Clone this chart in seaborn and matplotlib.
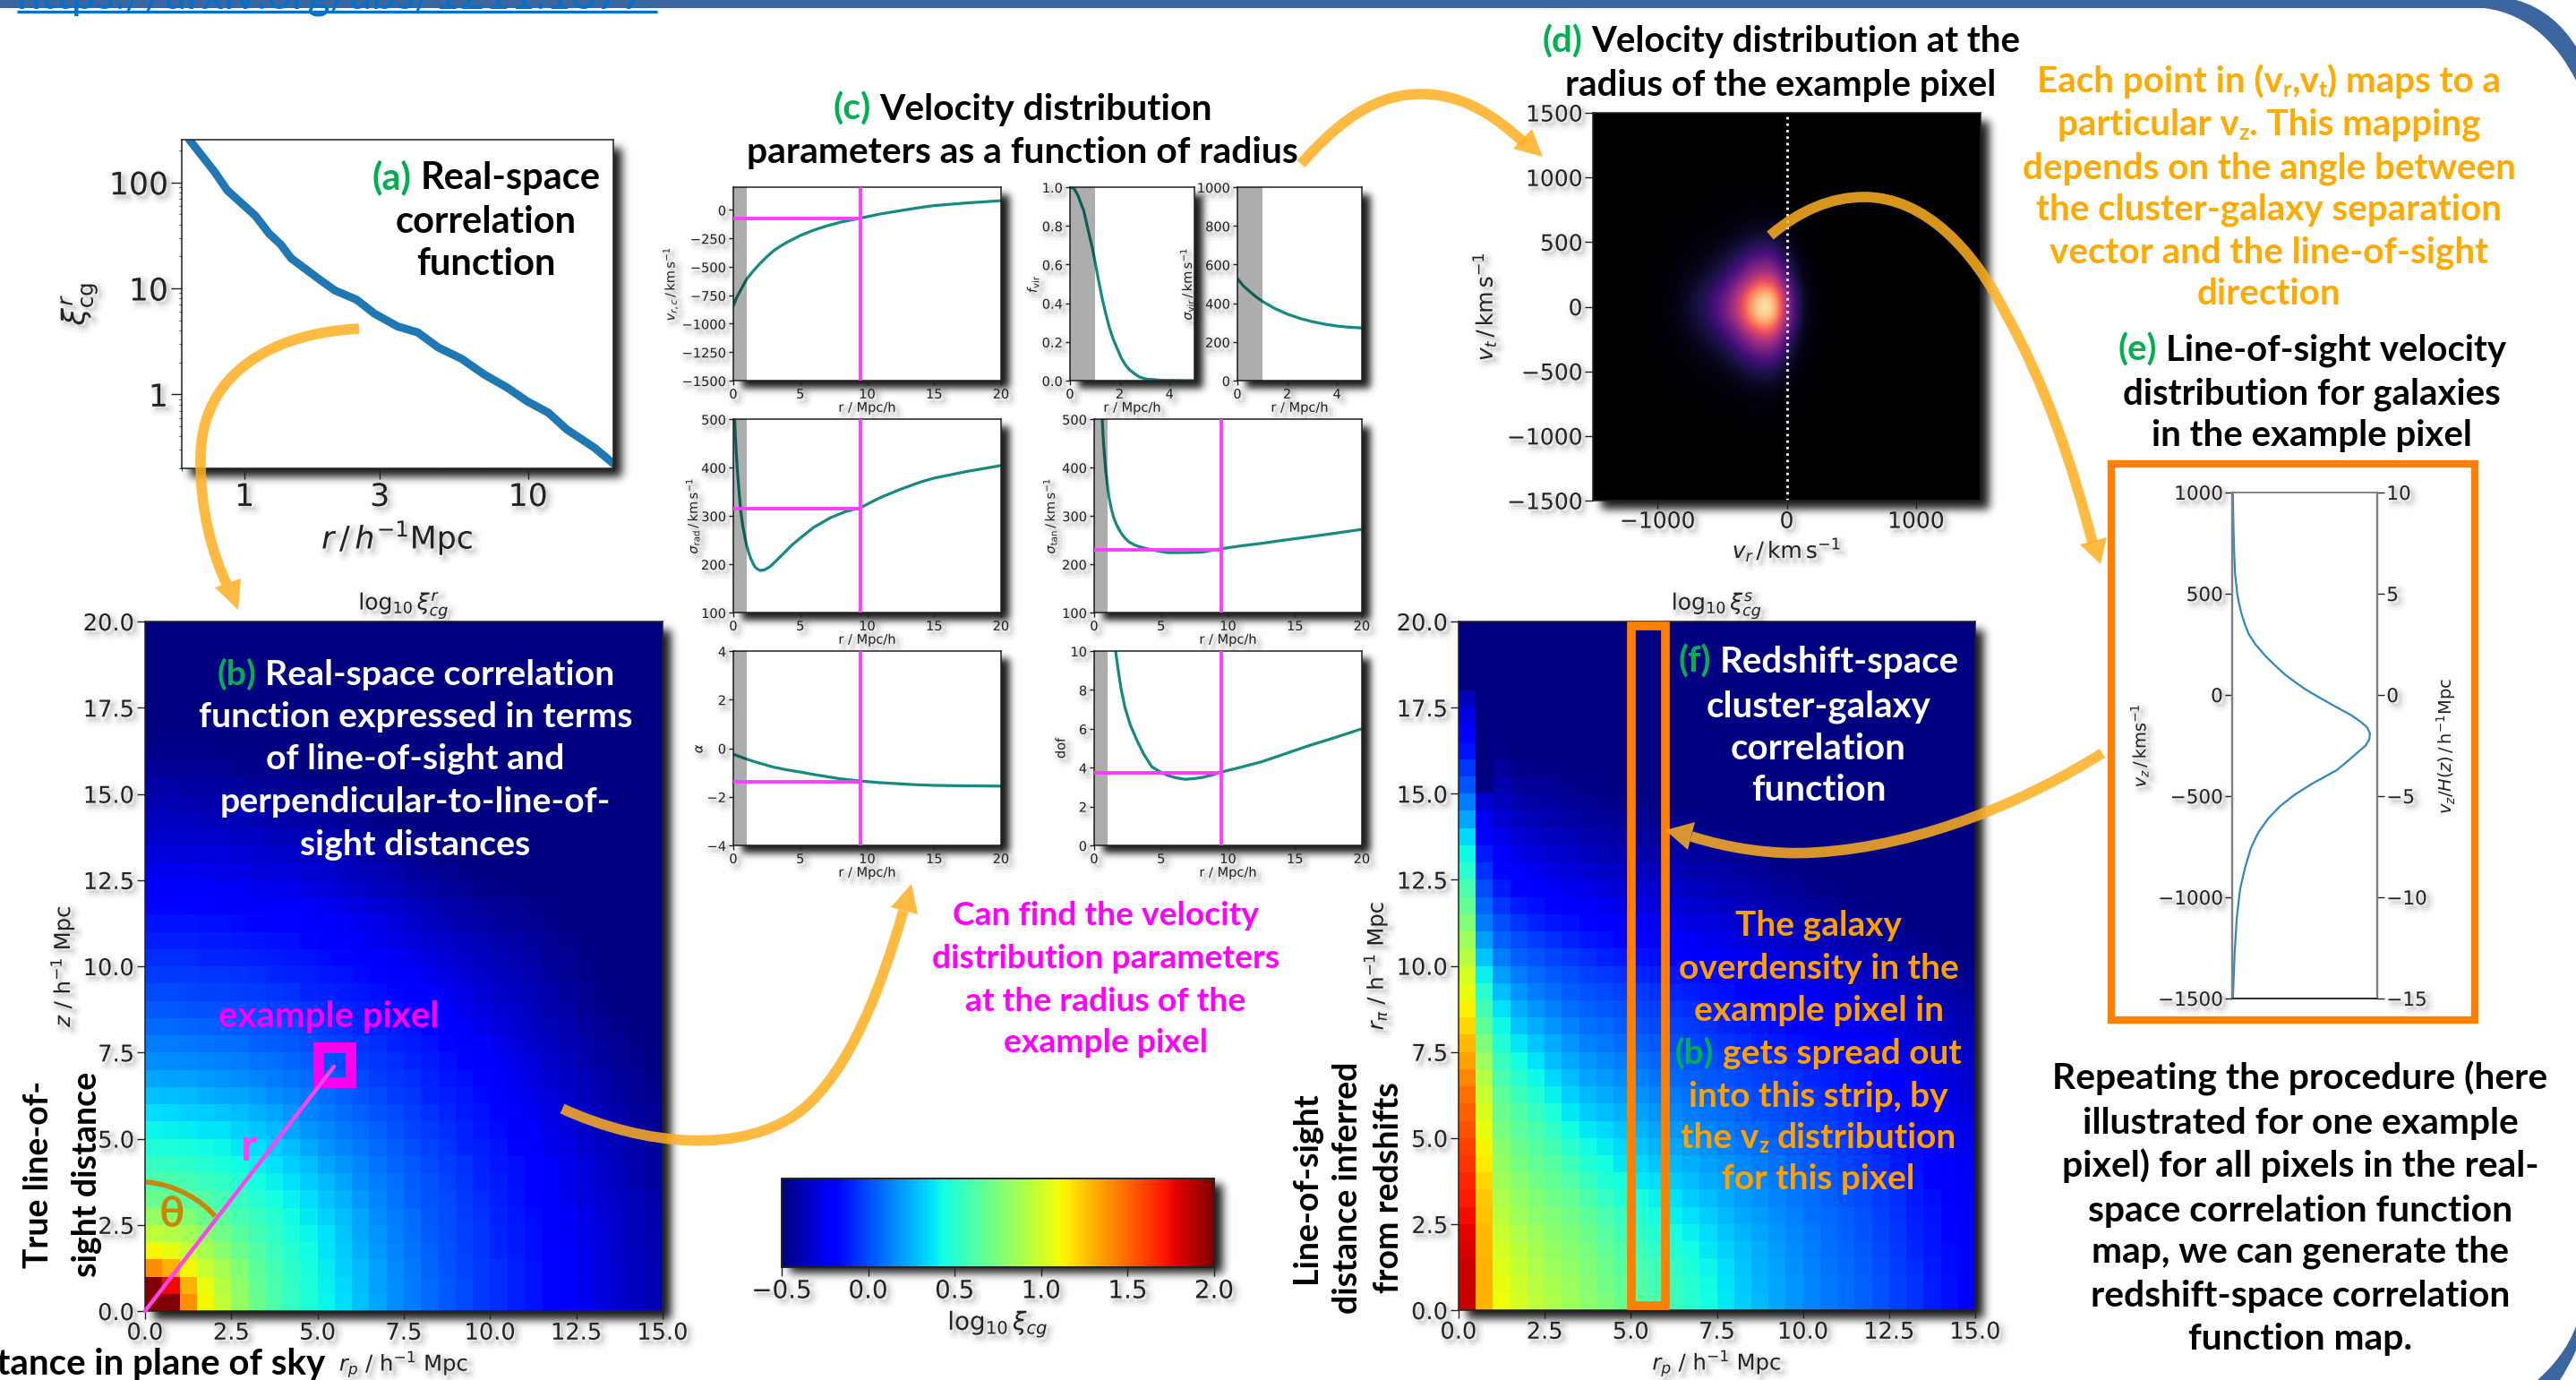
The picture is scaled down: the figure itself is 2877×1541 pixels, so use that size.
import numpy as np, math
import matplotlib
matplotlib.use("Agg")
import matplotlib.pyplot as plt
import seaborn as sns
import matplotlib.patheffects as pe
from matplotlib.path import Path
from matplotlib.patches import PathPatch, Polygon, Rectangle
from matplotlib.cm import ScalarMappable
from matplotlib.colors import Normalize
from matplotlib.ticker import NullFormatter

# ---------- panel (a)
a_r = [0.638,0.783,0.869,1.09,1.22,1.34,1.46,1.84,2.08,2.48,2.87,3.46,4.08,4.83,5.82,7.0,8.43,9.96,11.8,13.7,17.1,20.0]
a_xi = [253,126,84,48.6,32.9,26,19.2,12.1,9.57,7.84,5.78,4.38,3.84,2.76,2.17,1.54,1.16,0.855,0.67,0.466,0.315,0.222]

# ---------- panel (c)
rv = [0,.25,.5,.75,1,1.5,2,2.5,3,3.5,4,5,6,7,8,9.5,11,12.5,14,15,17.5,20]
v_rc = [-842,-770,-715,-660,-608,-535,-470,-412,-360,-320,-285,-225,-178,-140,-108,-72,-35,-6,22,38,62,81]
rf = [0,.15,.31,.55,.79,.9,1,1.13,1.27,1.42,1.57,1.72,1.87,2.05,2.23,2.4,2.6,2.8,3.07,3.67,5]
f_vir = [1,.995,.96,.88,.745,.685,.62,.53,.44,.355,.28,.22,.174,.12,.08,.055,.035,.018,.008,.002,0]
rs = [0,.25,.5,.75,1,1.5,2,2.5,3,3.5,4,4.5,5]
s_vir = [527,488,460,433,410,373,344,322,305,292,282,276,272]
r_rad = [.1,.2,.3,.43,.55,.7,.85,1,1.15,1.3,1.45,1.6,1.8,2,2.3,2.75,3.2,3.75,4.4,5,6,7.25,8.4,9.5,11,12.5,14,15,17.5,20]
s_rad = [500,440,395,350,312,280,258,238,224,212,203,195,190,187,188,195,207,222,240,254,276,296,309,317,338,355,370,378,392,404]
r_tan = [.6,.7,.87,1.1,1.28,1.45,1.65,1.85,2.05,2.3,2.6,3,3.4,3.8,4.6,5.5,6.8,8.1,9.5,11,12.5,14,15.9,18,20]
s_tan = [500,450,392,340,315,297,283,272,263,254,246,240,236,233,228,224,224,225,232,238,243,249,256,264,272]
r_alp = [0,.5,1,1.5,2,3,4,5,6,7,8,9.5,11,12,13.5,15,17.5,20]
alpha_v = [-.25,-.35,-.45,-.54,-.62,-.78,-.89,-.98,-1.08,-1.17,-1.26,-1.35,-1.42,-1.45,-1.5,-1.53,-1.55,-1.56]
r_dof = [1.6,1.8,2,2.3,2.7,3.2,3.7,4.3,4.9,5.5,6.1,6.8,7.5,8.1,8.8,9.5,11,12.5,14,15.9,18,20]
dof_v = [10,9,8.1,7.1,6.2,5.4,4.7,4.05,3.8,3.6,3.48,3.4,3.44,3.5,3.62,3.77,4.03,4.3,4.65,5.1,5.55,6]
r_example = 9.5
h_levels = {"rc": -77, "rad": 314, "tan": 229, "alp": -1.4, "dof": 3.75}

# ---------- panel (d) velocity profiles, 100 km/s steps from -1500 to 1500
d_vr_prof = [0,0,0,0,0,.01,.02,.06,.11,.18,.3,.48,.76,1.0,.95,.45,.1,.02,0,0,0,0,0,0,0,0,0,0,0,0,0]
d_vt_prof = [0,0,0,0,0,0,.004,.012,.03,.07,.14,.26,.42,.63,.9,1,.9,.63,.42,.26,.14,.07,.03,.012,.004,0,0,0,0,0,0]

# ---------- panel (e)
e_vz = [1000,900,800,700,600,500,450,400,350,300,250,192,150,100,68,30,0,-45,-100,-135,-160,-190,-220,-250,-281,-325,-372,-439,-496,-550,-609,-680,-755,-850,-958,-1100,-1274,-1500]
e_pdf = [.005,.007,.01,.014,.02,.035,.048,.065,.087,.115,.16,.23,.29,.365,.425,.5,.57,.68,.82,.89,.93,.95,.945,.92,.87,.8,.72,.55,.425,.33,.25,.18,.13,.09,.055,.032,.017,.005]

# ---------- panel (b): log10 xi in hundredths, rows from z=0 upward, unlisted cells are floor
FLOOR = -50
b_rows = [
[200,200,140,112,95,82,70,61,54,47,41,35,29,22,16,12,7,3,-1,-5,-8,-11,-14,-17,-21,-25,-29,-33,-36,-39],
[200,175,130,108,92,80,68,60,53,46,40,34,28,21,16,12,7,3,-1,-5,-8,-11,-14,-17,-21,-25,-29,-33,-36,-39],
[140,130,112,98,87,76,66,58,51,45,39,33,27,21,15,11,6,2,-2,-5,-8,-11,-14,-18,-22,-26,-30,-33,-36,-39],
[112,108,98,88,79,70,62,55,49,43,37,32,25,19,14,10,5,1,-3,-6,-9,-12,-15,-18,-22,-26,-30,-34,-37,-40],
[95,92,87,79,72,65,58,52,46,41,36,30,23,18,13,9,4,0,-3,-6,-9,-12,-15,-19,-23,-27,-30,-34,-37,-40],
[82,80,76,70,65,59,54,49,43,38,33,28,22,16,12,8,3,0,-4,-7,-10,-13,-16,-20,-23,-27,-31,-34,-37,-41],
[70,68,66,62,58,54,49,44,40,35,30,25,19,14,10,5,2,-1,-5,-8,-11,-14,-17,-21,-25,-29,-32,-35,-38,-41],
[61,60,58,55,52,49,44,40,36,32,27,22,16,12,9,4,1,-3,-6,-9,-12,-15,-18,-22,-26,-30,-34,-37,-40,-43],
[54,53,51,49,46,43,40,36,32,28,22,18,14,10,6,3,-1,-4,-7,-10,-13,-15,-18,-22,-26,-30,-34,-37,-40,-43],
[47,46,45,43,41,38,35,32,28,23,18,14,11,7,4,0,-3,-6,-9,-11,-14,-17,-21,-25,-28,-32,-35,-38,-41,-44],
[41,40,39,37,36,33,30,27,22,18,15,11,8,5,1,-2,-5,-8,-10,-13,-16,-19,-22,-26,-30,-34,-37,-40,-43,-46],
[35,34,33,32,30,28,25,22,18,14,11,8,5,2,-1,-4,-7,-9,-12,-14,-17,-21,-25,-28,-32,-35,-38,-41,-44,-46],
[29,28,27,25,23,22,19,16,14,11,8,5,2,-1,-4,-6,-9,-11,-13,-16,-19,-23,-27,-30,-34,-37,-40,-43,-46,-47],
[22,21,21,19,18,16,14,12,10,7,5,2,-1,-4,-6,-8,-10,-13,-15,-18,-21,-25,-29,-32,-35,-38,-41,-44,-46,-48],
[16,16,15,14,13,12,10,9,6,4,1,-1,-4,-6,-8,-10,-12,-15,-17,-20,-23,-27,-30,-34,-37,-40,-43,-46,-47,-49],
[12,12,11,10,9,8,5,4,3,0,-2,-4,-6,-8,-10,-12,-14,-17,-20,-22,-26,-29,-33,-36,-39,-41,-44,-46,-48],
[7,7,6,5,4,3,2,1,-1,-3,-5,-7,-9,-10,-12,-14,-17,-19,-22,-26,-29,-32,-35,-38,-40,-43,-46,-47,-49],
[3,3,2,1,0,0,-1,-3,-4,-6,-8,-9,-11,-13,-15,-17,-19,-22,-25,-28,-31,-34,-37,-40,-42,-45,-47,-49],
[-1,-1,-2,-3,-3,-4,-5,-6,-7,-9,-10,-12,-13,-15,-17,-20,-22,-25,-28,-31,-34,-36,-38,-41,-44,-46,-48,-49],
[-5,-5,-5,-6,-6,-7,-8,-9,-10,-11,-13,-14,-16,-18,-20,-22,-26,-28,-31,-33,-36,-38,-40,-43,-46,-47,-49],
[-8,-8,-8,-9,-9,-10,-11,-12,-13,-14,-16,-17,-19,-21,-23,-26,-29,-31,-34,-36,-38,-40,-42,-45,-46,-48,-49],
[-11,-11,-11,-12,-12,-13,-14,-15,-15,-17,-19,-21,-23,-25,-27,-29,-32,-34,-36,-38,-40,-42,-44,-46,-47,-49],
[-14,-14,-14,-15,-15,-16,-17,-18,-18,-19,-22,-23,-25,-27,-30,-33,-35,-38,-40,-42,-44,-45,-46,-47,-49],
[-17,-17,-18,-18,-19,-20,-21,-21,-22,-23,-25,-27,-29,-31,-33,-36,-38,-40,-42,-44,-45,-46,-47,-48],
[-21,-21,-22,-22,-23,-23,-25,-26,-26,-28,-30,-32,-34,-36,-38,-40,-42,-44,-46,-47,-48,-49],
[-25,-25,-25,-26,-27,-27,-29,-30,-30,-32,-33,-35,-37,-38,-40,-43,-45,-46,-47,-49],
[-29,-29,-30,-30,-30,-31,-32,-33,-34,-35,-37,-38,-40,-42,-44,-46,-47,-49],
[-33,-33,-33,-34,-34,-35,-35,-37,-37,-39,-40,-42,-44,-45,-47,-48,-49],
[-36,-36,-36,-37,-37,-38,-39,-40,-41,-42,-43,-45,-46,-48,-49],
[-39,-39,-40,-40,-40,-41,-42,-43,-44,-45,-46,-47,-48],
[-42,-42,-43,-43,-43,-44,-45,-45,-46,-47,-48],
[-45,-45,-45,-46,-46,-47,-47,-48,-49],
[-47,-47,-47,-47,-48,-48,-49],
[-49,-49,-49,-49],
]

# ---------- panel (f): log10 xi in hundredths, columns from r_p=0 outward, z upward
f_cols = [
[185,184,183,180,178,174,170,167,163,160,156,152,148,142,135,128,120,114,108,102,92,85,76,68,60,50,42,34,22,12,2,-6,-14,-20,-28,-36],
[130,130,130,129,128,126,124,120,116,113,108,104,98,92,84,75,66,58,50,40,30,20,12,6,0,-7,-12,-18,-24,-32],
[110,108,105,102,98,94,90,86,82,78,74,70,66,60,55,48,42,36,28,20,12,5,0,-6,-12,-17,-22,-27,-32,-36,-40,-44,-48],
[102,100,97,94,90,86,82,78,74,70,66,62,56,50,44,38,30,24,18,12,5,0,-6,-12,-17,-22,-27,-32,-36,-40,-44,-47],
[95,93,90,87,84,80,76,72,68,64,60,54,48,42,36,30,24,18,12,7,2,-4,-10,-15,-20,-25,-30,-34,-38,-42,-45,-48],
[90,88,85,82,79,76,72,68,64,58,52,46,40,34,28,24,18,13,8,3,-2,-8,-13,-18,-23,-28,-32,-36,-40,-43,-46,-48],
[85,83,81,78,75,72,68,62,56,50,44,38,33,28,23,18,13,8,4,0,-5,-10,-15,-20,-25,-30,-34,-38,-42,-45,-47,-49],
[80,78,76,74,70,66,60,54,48,43,38,32,27,22,18,13,9,5,1,-3,-8,-13,-18,-23,-27,-32,-36,-40,-43,-46,-48],
[75,73,71,68,64,60,54,48,44,39,34,28,24,19,15,11,7,3,-1,-5,-10,-15,-20,-25,-30,-34,-38,-41,-44,-47,-49],
[70,68,65,62,58,54,48,44,38,34,30,25,20,16,12,8,4,1,-3,-7,-12,-17,-22,-27,-31,-35,-39,-42,-45,-48],
[64,62,60,56,52,48,44,38,34,30,26,21,17,13,9,5,1,-2,-5,-9,-14,-18,-23,-28,-32,-36,-40,-43,-46,-48],
[60,58,56,52,48,44,40,35,30,26,22,18,14,10,6,3,-1,-4,-7,-11,-15,-20,-25,-29,-33,-37,-41,-44,-47,-49],
[55,54,52,48,44,40,36,32,27,23,19,15,11,7,4,0,-3,-6,-9,-13,-17,-22,-26,-30,-34,-38,-42,-45,-47],
[50,49,47,44,40,36,32,28,24,20,16,12,9,5,2,-2,-5,-8,-11,-15,-19,-23,-28,-32,-36,-40,-43,-46,-48],
[44,43,41,38,35,32,28,24,21,17,14,10,6,3,0,-4,-7,-10,-13,-17,-21,-25,-29,-33,-37,-41,-44,-47,-49],
[38,37,35,33,30,27,24,21,18,14,11,7,4,1,-2,-6,-9,-12,-15,-19,-23,-27,-31,-35,-39,-42,-45,-48],
[32,31,30,28,26,23,20,18,15,11,8,5,2,-1,-4,-8,-11,-14,-17,-21,-25,-29,-33,-37,-40,-44,-47,-49],
[27,26,25,24,22,20,17,15,12,9,6,2,-1,-3,-6,-10,-13,-16,-19,-23,-27,-31,-35,-39,-42,-45,-48],
[22,22,21,20,18,16,14,12,9,6,3,0,-3,-5,-8,-12,-15,-18,-21,-25,-29,-33,-37,-40,-44,-47,-49],
[18,18,17,16,15,13,11,9,6,3,1,-2,-5,-7,-10,-14,-17,-20,-23,-27,-31,-35,-39,-42,-45,-48],
[14,14,13,12,11,9,8,6,3,1,-1,-4,-7,-9,-12,-16,-19,-22,-25,-29,-33,-37,-40,-44,-47,-49],
[11,11,10,9,8,7,5,3,1,-1,-3,-6,-9,-11,-14,-18,-21,-24,-27,-31,-35,-38,-42,-45,-48],
[8,8,7,6,5,4,2,0,-2,-4,-6,-8,-11,-13,-16,-20,-23,-26,-29,-33,-37,-40,-44,-47,-49],
[5,5,4,3,2,1,-1,-3,-5,-7,-9,-11,-13,-15,-18,-22,-25,-28,-31,-35,-39,-42,-45,-48],
[1,1,0,-1,-2,-3,-5,-6,-8,-10,-12,-14,-16,-18,-21,-24,-27,-30,-33,-37,-40,-44,-47,-49],
[-3,-3,-4,-5,-6,-7,-8,-10,-12,-13,-15,-17,-19,-21,-24,-27,-30,-32,-35,-39,-42,-45,-48],
[-7,-7,-8,-9,-10,-11,-12,-13,-15,-16,-18,-20,-22,-24,-27,-30,-32,-34,-37,-41,-44,-47,-49],
[-11,-11,-12,-13,-13,-14,-15,-17,-18,-19,-21,-23,-25,-27,-30,-32,-35,-37,-40,-43,-46,-48],
[-15,-15,-16,-16,-17,-18,-19,-20,-21,-22,-24,-26,-28,-30,-32,-35,-37,-39,-42,-45,-48],
[-19,-19,-20,-20,-21,-21,-22,-23,-24,-25,-27,-29,-31,-33,-35,-37,-39,-41,-44,-47,-49],
]
map_ticks_x = ["0.0","2.5","5.0","7.5","10.0","12.5","15.0"]
map_ticks_y = ["0.0","2.5","5.0","7.5","10.0","12.5","15.0","17.5","20.0"]

W, H = 2877, 1541
sns.set_style("ticks")
plt.rcParams["font.family"] = ["DejaVu Sans"]
plt.rcParams["axes.edgecolor"] = "#222222"
plt.rcParams["xtick.color"] = "#222222"
plt.rcParams["ytick.color"] = "#222222"
plt.rcParams["text.color"] = "#222222"
plt.rcParams["axes.labelcolor"] = "#222222"

fig = plt.figure(figsize=(W/100, H/100), dpi=100, facecolor="white")
TXT = "Lato"
WEIGHT = "bold"
soft = [pe.Stroke(linewidth=4, foreground="k", alpha=.05, offset=(3,-3)),
        pe.Stroke(linewidth=9, foreground="k", alpha=.035, offset=(3,-3)),
        pe.Normal()]

def add(x0, y0, x1, y1, **kw):
    return fig.add_axes([x0/W, 1-y1/H, (x1-x0)/W, (y1-y0)/H], **kw)

def style(ax, fs, lab=None):
    ax.tick_params(labelsize=fs, length=fs*.35, width=1, pad=2)
    for s in ax.spines.values():
        s.set_visible(True); s.set_linewidth(1.1)
    for t in ax.get_xticklabels()+ax.get_yticklabels():
        t.set_path_effects(soft)

def labels(ax, xl, xc, yl, yc, fs):
    if xl:
        ax.set_xlabel(xl, fontsize=fs, path_effects=soft, va="center"); ax.xaxis.set_label_coords(*xc)
    if yl:
        ax.set_ylabel(yl, fontsize=fs, path_effects=soft, va="center"); ax.yaxis.set_label_coords(*yc)

# ---- drop shadows behind the panels
yy, xx = np.arange(H), np.arange(W)
erf = np.vectorize(math.erf)
shadow = np.zeros((H, W))
def add_shadow(x0, y0, x1, y1, dx=9, dy=9, s=7.0, a=.9):
    px = (erf((xx-x0-dx)/s)-erf((xx-x1-dx)/s))/2
    py = (erf((yy-y0-dy)/s)-erf((yy-y1-dy)/s))/2
    m = a*np.outer(py, px)
    np.maximum(shadow, m, out=shadow)

# ---- (a)
box = (203,156,685,523); add_shadow(*box)
ax = add(*box)
sns.lineplot(x=a_r, y=a_xi, ax=ax, color="#1f77b4", linewidth=6.5, estimator=None, sort=False)
ax.set_xscale("log"); ax.set_yscale("log")
ax.set_xlim(.6, 20); ax.set_ylim(.2, 253)
ax.set_xticks([1,3,10]); ax.set_xticklabels(["1","3","10"])
ax.set_yticks([1,10,100]); ax.set_yticklabels(["1","10","100"])
ax.xaxis.set_minor_formatter(NullFormatter()); ax.yaxis.set_minor_formatter(NullFormatter())
style(ax, 25)
labels(ax, r"$r\,/\,h^{-1}$Mpc", (.5,-.21), r"$\xi^{r}_{\rm cg}$", (-.239,.5), 25)

# ---- maps
def heat(box, data, title):
    add_shadow(*box)
    ax = add(*box)
    sns.heatmap(data, ax=ax, cmap="jet", vmin=-.5, vmax=2, cbar=False, xticklabels=False, yticklabels=False)
    ax.set_ylim(0, 40); ax.set_xlim(0, 30)
    ax.set_xticks(np.arange(0, 31, 5)); ax.set_xticklabels(map_ticks_x, rotation=0)
    ax.set_yticks(np.arange(0, 41, 5)); ax.set_yticklabels(map_ticks_y, rotation=0)
    style(ax, 18.5)
    ax.set_title(title, fontsize=18, pad=6, path_effects=soft)
    return ax

B = np.full((40, 30), float(FLOOR))
for j, row in enumerate(b_rows):
    B[j, :len(row)] = row
ax = heat((162,694,740,1464), B/100, r"$\log_{10}\xi^{r}_{cg}$")
labels(ax, r"$r_p$ / h$^{-1}$ Mpc", (.5,-.077), r"$z$ / h$^{-1}$ Mpc", (-.16,.5), 17.5)

F = np.full((40, 30), float(FLOOR))
for i, col in enumerate(f_cols):
    F[:len(col), i] = col
ax = heat((1629,694,2206,1463), F/100, r"$\log_{10}\xi^{s}_{cg}$")
labels(ax, r"$r_p$ / h$^{-1}$ Mpc", (.5,-.077), r"$r_\pi$ / h$^{-1}$ Mpc", (-.161,.5), 17.5)

# ---- (c)
TEAL = "#148a80"; MAG = "#ff3dff"
def cpanel(box, r, v, xlim, ylim, xt, yt, yl, lx, level=None):
    add_shadow(*box, dx=9, dy=8, s=6)
    ax = add(*box)
    sns.lineplot(x=r, y=v, ax=ax, color=TEAL, linewidth=2.3, estimator=None, sort=False)
    ax.axvspan(0, 1, color="k", alpha=.32, lw=0, zorder=3)
    if level is not None:
        ax.axvline(r_example, color=MAG, lw=2.8, zorder=4)
        ax.hlines(level, 0, r_example, color=MAG, lw=2.8, zorder=4)
    ax.set_xlim(*xlim); ax.set_ylim(*ylim)
    ax.set_xticks(xt); ax.set_yticks(yt)
    ax.set_yticklabels([str(t).replace("-", "\u2212") for t in yt])
    style(ax, 10.5)
    labels(ax, "r / Mpc/h", (.5,-.14), yl, (lx,.5), 10.5)

T20 = [0,5,10,15,20]; T5 = [0,2,4]
KM = r"/\,{\rm km\,s^{-1}}$"
cpanel((819,209,1118,425), rv, v_rc, (0,20), (-1500,200), T20, [-1500,-1250,-1000,-750,-500,-250,0], r"$v_{r,c}\,"+KM, -.237, h_levels["rc"])
cpanel((1195,209,1334,425), rf, f_vir, (0,5), (0,1), T5, [0.0,0.2,0.4,0.6,0.8,1.0], r"$f_{\rm vir}$", -.3)
cpanel((1382,209,1521,425), rs, s_vir, (0,5), (0,1000), T5, [0,200,400,600,800,1000], r"$\sigma_{\rm vir}\,"+KM, -.41)
cpanel((819,468,1118,684), r_rad, s_rad, (0,20), (100,500), T20, [100,200,300,400,500], r"$\sigma_{\rm rad}\,"+KM, -.154, h_levels["rad"])
cpanel((1222,468,1521,684), r_tan, s_tan, (0,20), (100,500), T20, [100,200,300,400,500], r"$\sigma_{\rm tan}\,"+KM, -.167, h_levels["tan"])
cpanel((819,727,1118,944), r_alp, alpha_v, (0,20), (-4,4), T20, [-4,-2,0,2,4], r"$\alpha$", -.13, h_levels["alp"])
cpanel((1222,727,1521,944), r_dof, dof_v, (0,20), (0,10), T20, [0,2,4,6,8,10], "dof", -.124, h_levels["dof"])

# ---- (d)
box = (1779,126,2212,559); add_shadow(*box)
ax = add(*box)
dens = np.outer(d_vt_prof, d_vr_prof)
ax.imshow(dens, origin="lower", extent=(-1550,1550,-1550,1550), cmap="magma", vmin=0, vmax=1, interpolation="bicubic", aspect="auto")
ax.axvline(0, color="white", lw=2, ls=(0,(1,1.6)))
ax.set_xlim(-1500,1500); ax.set_ylim(-1500,1500)
ax.set_xticks([-1000,0,1000]); ax.set_xticklabels(["\u22121000","0","1000"])
ax.set_yticks([-1500,-1000,-500,0,500,1000,1500]); ax.set_yticklabels(["\u22121500","\u22121000","\u2212500","0","500","1000","1500"])
style(ax, 18)
labels(ax, r"$v_r\,/\,{\rm km\,s^{-1}}$", (.5,-.127), r"$v_t\,/\,{\rm km\,s^{-1}}$", (-.28,.5), 18)

# ---- (e)
ax = add(2493,550,2655,1115)
sns.lineplot(x=e_pdf, y=e_vz, ax=ax, color="#2f86c1", linewidth=1.6, estimator=None, sort=False)
ax.set_xlim(0,1); ax.set_ylim(-1500,1000)
ax.set_xticks([])
ax.set_yticks([-1500,-1000,-500,0,500,1000]); ax.set_yticklabels(["\u22121500","\u22121000","\u2212500","0","500","1000"])
style(ax, 15.5)
labels(ax, None, None, r"$v_z\,/\,{\rm km s^{-1}}$", (-.64,.5), 14)
tw = ax.twinx(); tw.set_ylim(-15,10); tw.set_yticks([-15,-10,-5,0,5,10]); tw.set_yticklabels(["\u221215","\u221210","\u22125","0","5","10"])
style(tw, 15.5)
tw.set_ylabel(r"$v_z/H(z)\,/\,{\rm h^{-1}Mpc}$", fontsize=14, va="center"); tw.yaxis.set_label_coords(1.475,.5)
for a_ in (ax, tw):
    a_.spines["left"].set_color("#808080"); a_.spines["right"].set_color("#808080"); a_.spines["top"].set_color("#808080")
    a_.spines["left"].set_linewidth(1.6); a_.spines["right"].set_linewidth(1.6)

# ---- colour bar
box = (873,1316,1356,1415); add_shadow(*box, dy=6)
cax = add(*box)
cb = fig.colorbar(ScalarMappable(Normalize(-.5,2), "jet"), cax=cax, orientation="horizontal", ticks=[-.5,0,.5,1,1.5,2])
cax.set_xticklabels(["\u22120.5","0.0","0.5","1.0","1.5","2.0"])
style(cax, 20)
cax.set_xlabel(r"$\log_{10}\xi_{cg}$", fontsize=20, path_effects=soft, va="center"); cax.xaxis.set_label_coords(.5,-.64)

fig.figimage(np.dstack([np.zeros((H,W,3)), shadow]), zorder=-5, origin="upper")

# ---- overlay in figure pixels
ov = fig.add_axes([0,0,1,1], zorder=20)
ov.set_xlim(0,W); ov.set_ylim(H,0); ov.axis("off"); ov.patch.set_alpha(0)
fig.canvas.draw()
rend = fig.canvas.get_renderer()
GREEN = "#00b050"; ORG = "#ffaa00"; LINK = "#0070c8"; BAR = "#3b66a0"

def width(s, fs, **kw):
    t = ov.text(0,0,s,fontsize=fs,family=TXT,fontweight=WEIGHT,**kw)
    w = t.get_window_extent(rend).width; t.remove()
    return w

def rich(xc, yc, pieces, fs):
    gap = width("a b", fs)-width("ab", fs)
    meas, total = [], 0
    for i, (s, c, k) in enumerate(pieces):
        sz = fs*.62 if k else fs
        w = width(s.strip(), sz)
        g = gap if (s.endswith(" ") or (i+1 < len(pieces) and pieces[i+1][0].startswith(" "))) else 0
        meas.append((s.strip(), c, k, sz, w, g)); total += w+g
    x = xc-total/2
    base = yc+.36*fs*100/72
    for s, c, k, sz, w, g in meas:
        ov.text(x, base+(.13*fs*100/72 if k else 0), s, fontsize=sz, color=c, family=TXT, fontweight=WEIGHT, ha="left", va="baseline")
        x += w+g

def block(xc, ys, lines, color, fs):
    for y, ln in zip(ys, lines):
        if isinstance(ln, str):
            ln = [(ln, color, None)]
        rich(xc, y, ln, fs)

K = "#000000"; WH = "#ffffff"
block(543, [196,245,292], [[("(a) ",GREEN,None),("Real-space",K,None)], "correlation", "function"], K, 30)
block(464, [751,798,845,893,941], [[("(b) ",GREEN,None),("Real-space correlation",WH,None)], "function expressed in terms", "of line-of-sight and", "perpendicular-to-line-of-", "sight distances"], WH, 28.3)
block(1142, [119,167], [[("(c) ",GREEN,None),("Velocity distribution",K,None)], "parameters as a function of radius"], K, 29.4)
block(1989, [44,93], [[("(d) ",GREEN,None),("Velocity distribution at the",K,None)], "radius of the example pixel"], K, 28.9)
block(2534, [88,136,185,231,279,325], [
    [("Each point in (v",ORG,None),("r",ORG,"sub"),(",v",ORG,None),("t",ORG,"sub"),(") maps to a",ORG,None)],
    [("particular v",ORG,None),("z",ORG,"sub"),(". This mapping",ORG,None)],
    "depends on the angle between", "the cluster-galaxy separation", "vector and the line-of-sight", "direction"], ORG, 29.1)
block(2582, [388,437,484], [[("(e) ",GREEN,None),("Line-of-sight velocity",K,None)], "distribution for galaxies", "in the example pixel"], K, 28.9)
block(2031, [736,786,833,879], [[("(f) ",GREEN,None),("Redshift-space",WH,None)], "cluster-galaxy", "correlation", "function"], WH, 29)
OR2 = "#ffa000"
block(2031, [1031,1079,1126,1174,1222,1268,1314], ["The galaxy", "overdensity in the", "example pixel in",
    [("(b) ",GREEN,None),("gets spread out",OR2,None)], "into this strip, by",
    [("the v",OR2,None),("z",OR2,"sub"),(" distribution",OR2,None)], "for this pixel"], OR2, 28)
block(1235, [1020,1068,1116,1162], ["Can find the velocity", "distribution parameters", "at the radius of the", "example pixel"], "#ff00ff", 26.8)
block(2569, [1202,1251,1299,1349,1395,1444,1492], ["Repeating the procedure (here", "illustrated for one example", "pixel) for all pixels in the real-",
    "space correlation function", "map, we can generate the", "redshift-space correlation", "function map."], K, 29.4)
block(367, [1133], ["example pixel"], "#ff00ff", 29)
ov.text(278,1281,"r",fontsize=36,color="#ff40ee",family=TXT,fontweight=WEIGHT,ha="center",va="center")
ov.text(192,1356,"\u03b8",fontsize=34,color="#c8860a",family=TXT,fontweight=WEIGHT,ha="center",va="center")

for x, s in ((1459,"Line-of-sight"),(1505,"distance inferred"),(1551,"from redshifts")):
    ov.text(x,1326,s,rotation=90,fontsize=27,color=K,family=TXT,fontweight=WEIGHT,ha="center",va="center")
for x, s in ((43,"True line-of-"),(97,"sight distance")):
    ov.text(x,1311,s,rotation=90,fontsize=27,color=K,family=TXT,fontweight=WEIGHT,ha="center",va="center")
ov.text(363,1523,"Distance in plane of sky",fontsize=29,color=K,family=TXT,fontweight=WEIGHT,ha="right",va="center")

# pixel, r line, angle arc
ov.add_patch(Rectangle((356,1170),36,39,fill=False,ec="#ff00ee",lw=8.6))
ov.plot([162,373],[1464,1191],color="#ff44ee",lw=3.2)
ov.add_patch(PathPatch(Path([(163,1320),(195,1322),(225,1340),(240,1358)],[1,4,4,4]),fill=False,ec="#c8860a",lw=4))
# strip and box
ov.add_patch(Rectangle((1822,699),38,759,fill=False,ec="#ff8000",lw=7))
ov.add_patch(Rectangle((2358,518),406,621,fill=False,ec="#ff8000",lw=6))

# arrows
ARC = "#ffb020"
def arrow(segs, head):
    v, c = [segs[0]], [1]
    for p in segs[1:]:
        v.append(p); c.append(4)
    ov.add_patch(PathPatch(Path(v,c),fill=False,ec=ARC,lw=8.4,alpha=.85,capstyle="butt",zorder=6))
    ov.add_patch(Polygon(head,closed=True,fc=ARC,ec="none",alpha=.85,zorder=6))
arrow([(401,367),(300,372),(225,420),(224,510),(223,570),(238,620),(253,652)], [(266,681),(240,656),(269,646)])
arrow([(628,1238),(720,1280),(830,1290),(895,1240),(950,1195),(985,1100),(1009,1017)], [(1018,987),(995,1013),(1025,1021)])
arrow([(1453,183),(1500,130),(1540,105),(1587,105),(1635,105),(1670,130),(1703,160)], [(1723,175),(1690,166),(1711,144)])
arrow([(1977,263),(2010,235),(2045,220),(2082,220),(2150,220),(2205,280),(2240,350),(2285,430),(2315,520),(2337,606)], [(2346,630),(2323,608),(2353,600)])
arrow([(2348,841),(2270,890),(2150,945),(2026,952),(1980,955),(1930,947),(1889,934)], [(1860,927),(1893,918),(1885,949)])

# slide frame
top = Path([(0,0),(2810,0),(2840,8),(2862,28),(2877,52),(2877,90),(2858,52),(2825,15),(2774,9),(0,9),(0,0)],[1,2,4,4,4,2,4,4,4,2,79])
ov.add_patch(PathPatch(top,fc=BAR,ec="none",zorder=8))
low = Path([(2877,1481),(2868,1505),(2852,1525),(2834,1541),(2859,1541),(2868,1528),(2877,1508),(2877,1481)],[1,4,4,4,2,3,3,79])
ov.add_patch(PathPatch(low,fc=BAR,ec="none",zorder=8))
ov.text(19,9,"https://arxiv.org/abs/1211.1677",fontsize=35,color=LINK,family=TXT,ha="left",va="baseline",zorder=9)
ov.plot([19,734],[12.5,12.5],color=LINK,lw=2.4,zorder=9,solid_capstyle="butt")
ov.set_xlim(0,W); ov.set_ylim(H,0)

fig.savefig("out.png", dpi=100)
